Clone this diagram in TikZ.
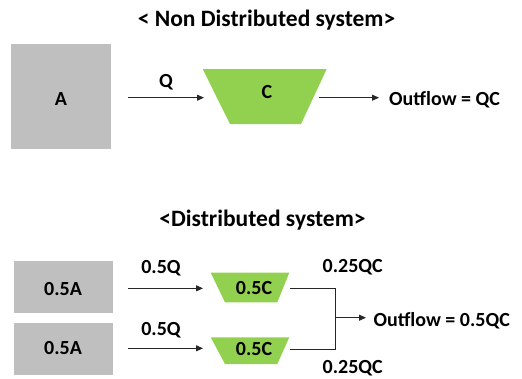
\documentclass[tikz,border=0pt]{standalone}
\usepackage{fontspec}
\setmainfont{Carlito}
\usetikzlibrary{arrows.meta}
\definecolor{boxgray}{HTML}{BFBFBF}
\definecolor{trapgreen}{HTML}{92D050}
\definecolor{linegray}{HTML}{262626}
\tikzset{
  lbl/.style={inner sep=0pt, font=\fontsize{20bp}{22bp}\selectfont\bfseries, text height=13bp, text depth=0pt},
  ttl/.style={inner sep=0pt, font=\fontsize{23.5bp}{26bp}\selectfont\bfseries, text height=15bp, text depth=0pt},
  graybox/.style={fill=boxgray, draw=none, inner sep=0pt},
  trap/.style={fill=trapgreen, draw=none},
  arr/.style={draw=linegray, line width=0.9bp, -{Triangle[length=7bp,width=6bp]}},
  wire/.style={draw=linegray, line width=0.9bp}
}
\begin{document}
\begin{tikzpicture}[x=1bp,y=-1bp]
\useasboundingbox (0,0) rectangle (522,378);
% ---------- Non distributed ----------
\node[ttl] (t1) at (266.5,19) {< Non Distributed system>};
\node[graybox, minimum width=100bp, minimum height=105bp] (A) at (61,96.7) {};
\node[lbl] (Alab) at (61,99) {A};
% trapezoid C
\fill[trap] (202.7,69) -- (326.7,69) -- (301,124) -- (230,124) -- cycle;
\node[lbl] (C) at (267,92) {C};
\coordinate (q1s) at (128,97.7);
\coordinate (q1e) at (204,97.7);
\draw[arr] (q1s) -- (q1e);
\node[lbl] (Q) at (166,80.7) {Q};
\coordinate (o1s) at (319,97.7);
\coordinate (o1e) at (379,97.7);
\node[lbl, anchor=west] (out1) at (389,99) {Outflow = QC};
\draw[arr] (o1s) -- (o1e);
% ---------- Distributed ----------
\node[ttl] (t2) at (262.5,219) {<Distributed system>};
\node[graybox, minimum width=99bp, minimum height=52bp] (A1) at (63.6,286.7) {};
\node[graybox, minimum width=99bp, minimum height=52bp] (A2) at (63.6,348.5) {};
\node[lbl] (A1lab) at (63,289) {0.5A};
\node[lbl] (A2lab) at (63,348) {0.5A};
% trapezoids
\fill[trap] (210.7,272.7) -- (289.3,272.7) -- (277.3,302.3) -- (225,302.3) -- cycle;
\fill[trap] (210.7,337.3) -- (289.3,337.3) -- (277.3,364) -- (225,364) -- cycle;
\node[lbl] (C1) at (254,288) {0.5C};
\node[lbl] (C2) at (254,349) {0.5C};
% input arrows
\coordinate (q2s) at (128,288.3);
\coordinate (q2e) at (203,288.3);
\coordinate (q3s) at (128,348.3);
\coordinate (q3e) at (203,348.3);
\draw[arr] (q2s) -- (q2e);
\draw[arr] (q3s) -- (q3e);
\node[lbl] (Q2) at (161,267.3) {0.5Q};
\node[lbl] (Q3) at (161,329.3) {0.5Q};
% merge
\coordinate (m1) at (289.5,288.3);
\coordinate (m2) at (289.5,349.3);
\coordinate (mj) at (335.3,317.7);
\coordinate (mje) at (366,317.7);
\draw[wire] (m1) -- (335.3,288.3) -- (335.3,349.3) -- (m2);
\node[lbl, anchor=west] (out2) at (373.3,320) {Outflow = 0.5QC};
\draw[arr] (mj) -- (mje);
\node[lbl] (f1) at (352.7,266) {0.25QC};
\node[lbl] (f2) at (352.7,367) {0.25QC};
\end{tikzpicture}
\end{document}
